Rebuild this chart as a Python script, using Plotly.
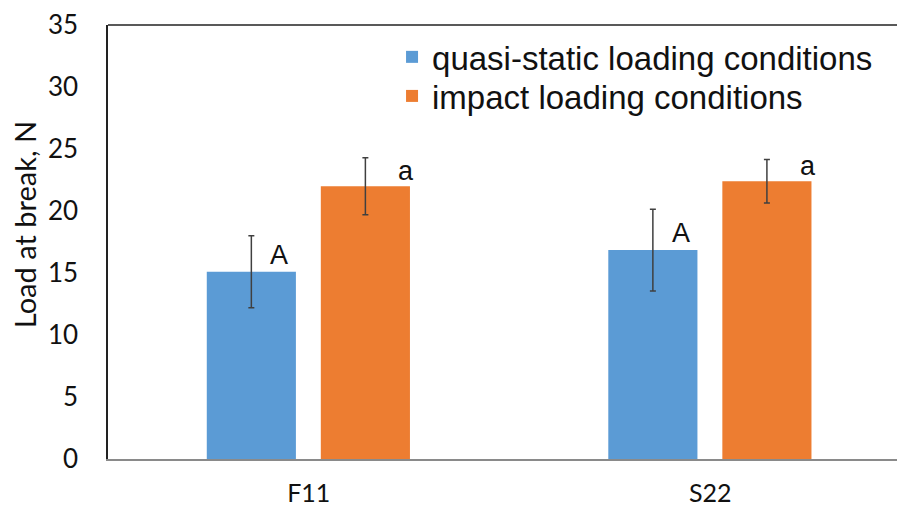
import plotly.graph_objects as go

# Sample groups and measured load at break (N)
categories = ["F11", "S22"]
quasi_static = [15.1, 16.85]
quasi_static_err = [2.9, 3.3]
impact = [22.0, 22.4]
impact_err = [2.3, 1.75]

# Significance letters written above each bar
quasi_static_letters = ["A", "A"]
impact_letters = ["a", "a"]

y_ticks = [0, 5, 10, 15, 20, 25, 30, 35]

BLUE = "#5B9BD5"
ORANGE = "#ED7D31"
ERR = "#404040"

bar_w = 0.222
blue_off = -0.254
orange_off = 0.030

fig = go.Figure()
fig.add_trace(go.Bar(
    name="quasi-static loading conditions",
    x=categories, y=quasi_static,
    width=bar_w, offset=blue_off,
    marker=dict(color=BLUE, line=dict(width=0)),
    error_y=dict(type="data", array=quasi_static_err, visible=True,
                 color=ERR, thickness=1.5, width=3),
    legend="legend",
))
fig.add_trace(go.Bar(
    name="impact loading conditions",
    x=categories, y=impact,
    width=bar_w, offset=orange_off,
    marker=dict(color=ORANGE, line=dict(width=0)),
    error_y=dict(type="data", array=impact_err, visible=True,
                 color=ERR, thickness=1.5, width=3),
    legend="legend2",
))

# Letters beside the error bars, anchored to each bar's top
letter_font = dict(family="Liberation Sans, Arial, sans-serif", size=27, color="#111111")
for i, cat in enumerate(categories):
    fig.add_annotation(x=i + blue_off + bar_w / 2, y=quasi_static[i],
                       text=quasi_static_letters[i], showarrow=False,
                       xanchor="center", yanchor="bottom",
                       xshift=28, yshift=0, font=letter_font)
    fig.add_annotation(x=i + orange_off + bar_w / 2, y=impact[i],
                       text=impact_letters[i], showarrow=False,
                       xanchor="center", yanchor="bottom",
                       xshift=41, yshift=-2, font=letter_font)

# Y-axis title, set a little above the middle of the axis
fig.add_annotation(text="Load at break, N", xref="paper", yref="paper",
                   x=-0.1065, y=0.541, xanchor="center", yanchor="middle",
                   textangle=-90, showarrow=False,
                   font=dict(family="Lato, Carlito, Calibri, sans-serif", size=29, color="#111111"))

# Top frame line of the plot area
fig.add_shape(type="line", xref="paper", yref="paper", x0=0, x1=1, y0=1, y1=1,
              line=dict(color="#222222", width=1.5))

axis_font = dict(family="Lato, Carlito, Calibri, sans-serif", size=26, color="#111111")
legend_font = dict(family="Liberation Sans, Arial, sans-serif", size=33, color="#111111")

fig.update_layout(
    width=897, height=509,
    margin=dict(l=108, r=0, t=25, b=50, autoexpand=False),
    paper_bgcolor="white", plot_bgcolor="white",
    barmode="overlay",
    showlegend=True,
    legend=dict(x=0.36, y=0.991, xanchor="left", yanchor="top",
                bgcolor="rgba(0,0,0,0)", font=legend_font, itemwidth=30),
    legend2=dict(x=0.36, y=0.901, xanchor="left", yanchor="top",
                 bgcolor="rgba(0,0,0,0)", font=legend_font, itemwidth=30),
    xaxis=dict(
        type="category", range=[-0.5, 1.465], automargin=False,
        showline=True, linecolor="#8a8a8a", linewidth=1.5,
        showgrid=False, zeroline=False, ticks="",
        tickfont=dict(family="Lato, Carlito, Calibri, sans-serif", size=25, color="#111111"),
        ticklabelstandoff=11,
    ),
    yaxis=dict(
        range=[0, 35], tickvals=y_ticks, automargin=False,
        showline=True, linecolor="#222222", linewidth=1.5,
        showgrid=False, zeroline=False, ticks="",
        tickfont=axis_font, ticklabelstandoff=23,
    ),
)

fig.write_html("out.html")
